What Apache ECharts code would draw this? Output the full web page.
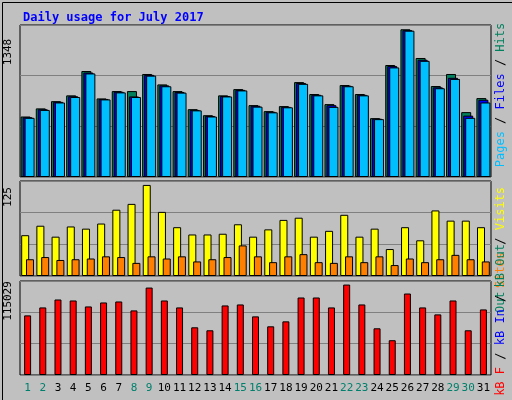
<!DOCTYPE html>
<html>
<head>
<meta charset="utf-8">
<script src="https://cdn.jsdelivr.net/npm/echarts@6/dist/echarts.min.js"></script>
<style>
  html, body { margin: 0; padding: 0; background: #fff; }
  #main { width: 512px; height: 400px; }
</style>
</head>
<body>
<div id="main"></div>
<script>
var days = [];
for (var d = 1; d <= 31; d++) days.push(String(d));
var weekendDays = [1, 2, 8, 9, 15, 16, 22, 23, 29, 30];

// 点击/文件/页面
var hits = [552, 626, 692, 745, 967, 717, 784, 784, 940, 845, 784, 619, 564, 745, 802, 656,
  601, 647, 866, 757, 665, 839, 757, 537, 1022, 1348, 1086, 830, 940, 592, 720];
var files = [545, 618, 686, 737, 953, 712, 778, 735, 932, 836, 776, 612, 557, 739, 795, 650,
  595, 640, 858, 750, 655, 833, 750, 532, 1012, 1340, 1070, 818, 905, 560, 705];
var pages = [540, 612, 680, 730, 945, 708, 772, 730, 925, 828, 770, 608, 552, 735, 790, 642,
  590, 636, 850, 745, 640, 828, 745, 528, 1000, 1335, 1060, 810, 895, 540, 680];
// 访问/站点
var visits = [56, 69, 54, 68, 65, 72, 91, 99, 125, 88, 67, 57, 57, 58, 71, 54,
  64, 77, 80, 54, 62, 84, 54, 65, 37, 67, 49, 90, 76, 76, 67];
var sites = [23, 26, 22, 23, 24, 27, 26, 18, 27, 24, 27, 20, 23, 26, 42, 27,
  19, 27, 30, 19, 18, 27, 19, 27, 15, 24, 19, 23, 29, 23, 20];
// 流量 kB
var kbytes = [75840, 85950, 96060, 94800, 87210, 92270, 93530, 82160, 111230, 94800, 85950, 60670, 56880, 88480, 89740, 74570,
  61930, 68250, 98590, 98590, 85950, 115029, 89740, 59400, 44240, 103640, 85950, 77100, 94800, 56880, 83420];

var topMax = 1387, midMax = 130.4, botMax = 119580;
var font = "DejaVu Sans Mono";

var myChart = echarts.init(document.getElementById("main"));

function xAxisFor(idx, showLabels) {
  return {
    type: "category", gridIndex: idx, data: days,
    axisLine: { show: false }, axisTick: { show: false },
    axisLabel: {
      show: showLabels, margin: 8, interval: 0, fontFamily: font, fontSize: 11,
      formatter: function (v) {
        return weekendDays.indexOf(+v) >= 0 ? "{we|" + v + "}" : "{wd|" + v + "}";
      },
      rich: { we: { color: "#00806c", fontFamily: font, fontSize: 11 }, wd: { color: "#000", fontFamily: font, fontSize: 11 } }
    }
  };
}
function yAxisFor(idx, max) {
  return {
    type: "value", gridIndex: idx, min: 0, max: max, interval: max / 3,
    axisLabel: { show: false }, axisLine: { show: false }, axisTick: { show: false },
    splitLine: { lineStyle: { color: "#808080", width: 1 } }
  };
}
function barSeries(name, data, x, color, width, gap) {
  return {
    name: name, type: "bar", xAxisIndex: x, yAxisIndex: x, data: data,
    barWidth: width, barGap: gap, animation: false,
    itemStyle: { color: color, borderColor: "#000", borderWidth: 1 }
  };
}
var f12 = "12px " + font;

var option = {
  backgroundColor: "#c0c0c0",
  title: {
    text: "Daily usage for July 2017", left: 18, top: 7,
    textStyle: { color: "#0000ff", fontFamily: font, fontSize: 12, fontWeight: "bold" }
  },
  grid: [
    { left: 20, right: 21, top: 25, height: 152, show: true, borderColor: "#000", backgroundColor: "#c0c0c0" },
    { left: 20, right: 21, top: 181, height: 95, show: true, borderColor: "#000", backgroundColor: "#c0c0c0" },
    { left: 20, right: 21, top: 281, height: 94, show: true, borderColor: "#000", backgroundColor: "#c0c0c0" }
  ],
  xAxis: [xAxisFor(0, false), xAxisFor(1, false), xAxisFor(2, true)],
  yAxis: [yAxisFor(0, topMax), yAxisFor(1, midMax), yAxisFor(2, botMax)],
  series: [
    barSeries("Hits", hits, 0, "#00805c", 10, "-80%"),
    barSeries("Files", files, 0, "#0000ff", 10, "-80%"),
    barSeries("Pages", pages, 0, "#00bfff", 10, "-80%"),
    barSeries("Visits", visits, 1, "#ffff00", 8, "-40%"),
    barSeries("Sites", sites, 1, "#ff8000", 8, "-40%"),
    barSeries("kB F", kbytes, 2, "#ff0000", 7, "0%")
  ],
  graphic: [
    { type: "rect", left: 0, top: 0, shape: { width: 511, height: 399 }, style: { fill: "none", stroke: "#000", lineWidth: 1 } },
    { type: "text", x: 8, y: 52, rotation: Math.PI / 2, style: { text: "1348", fill: "#000", font: "11px " + font, align: "center", verticalAlign: "middle" } },
    { type: "text", x: 8, y: 197, rotation: Math.PI / 2, style: { text: "125", fill: "#000", font: "11px " + font, align: "center", verticalAlign: "middle" } },
    { type: "text", x: 8, y: 301, rotation: Math.PI / 2, style: { text: "115029", fill: "#000", font: "11px " + font, align: "center", verticalAlign: "middle" } },
    { type: "text", x: 501, y: 95, rotation: Math.PI / 2, style: {
      text: "{p|Pages}{s| / }{f|Files}{s| / }{h|Hits}", align: "center", verticalAlign: "middle",
      rich: { p: { fill: "#00bfff", font: f12 }, s: { fill: "#000", font: f12 }, f: { fill: "#0000ff", font: f12 }, h: { fill: "#00805c", font: f12 } } } },
    { type: "text", x: 501, y: 250, rotation: Math.PI / 2, style: {
      text: "{o|Out} {st|Sites}{s| / }{v|Visits}", align: "center", verticalAlign: "middle",
      rich: { o: { fill: "#00805c", font: f12 }, st: { fill: "#ff8000", font: f12 }, s: { fill: "#000", font: f12 }, v: { fill: "#ffff00", font: f12 } } } },
    { type: "text", x: 501, y: 320, rotation: Math.PI / 2, style: {
      text: "{r|kB F}{s| / }{b|kB In}{s| / }{g|kB Out}", align: "center", verticalAlign: "middle",
      rich: { r: { fill: "#ff0000", font: f12 }, s: { fill: "#000", font: f12 }, b: { fill: "#0000ff", font: f12 }, g: { fill: "#00805c", font: f12 } } } }
  ]
};
myChart.setOption(option);
</script>
</body>
</html>
